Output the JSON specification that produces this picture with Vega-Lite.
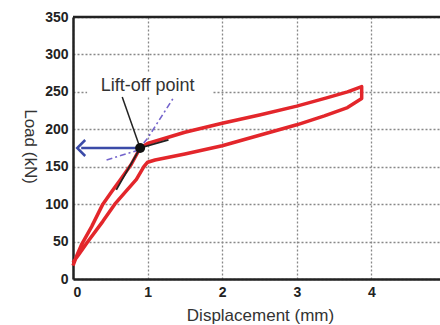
{
  "$schema": "https://vega.github.io/schema/vega-lite/v6.json",
  "width": 367,
  "height": 262,
  "autosize": {"type": "none"},
  "padding": {"left": 73, "top": 17, "right": 0, "bottom": 46},
  "background": "white",
  "config": {"view": {"stroke": null}},
  "datasets": {
    "loop": [
      {"i": 1, "d": 0.0, "load": 18},
      {"i": 2, "d": 0.05, "load": 31},
      {"i": 3, "d": 0.12, "load": 47},
      {"i": 4, "d": 0.25, "load": 70},
      {"i": 5, "d": 0.4, "load": 100},
      {"i": 6, "d": 0.52, "load": 117},
      {"i": 7, "d": 0.63, "load": 132},
      {"i": 8, "d": 0.78, "load": 153},
      {"i": 9, "d": 0.9, "load": 175},
      {"i": 10, "d": 1.0, "load": 181},
      {"i": 11, "d": 1.5, "load": 196},
      {"i": 12, "d": 2.0, "load": 208},
      {"i": 13, "d": 2.5, "load": 219},
      {"i": 14, "d": 3.0, "load": 231},
      {"i": 15, "d": 3.4, "load": 242},
      {"i": 16, "d": 3.68, "load": 250},
      {"i": 17, "d": 3.87, "load": 257},
      {"i": 18, "d": 3.87, "load": 241},
      {"i": 19, "d": 3.68, "load": 229},
      {"i": 20, "d": 3.37, "load": 218},
      {"i": 21, "d": 3.0, "load": 206},
      {"i": 22, "d": 2.5, "load": 192},
      {"i": 23, "d": 2.0, "load": 178},
      {"i": 24, "d": 1.5, "load": 167},
      {"i": 25, "d": 1.1, "load": 159},
      {"i": 26, "d": 1.0, "load": 156},
      {"i": 27, "d": 0.95, "load": 150},
      {"i": 28, "d": 0.85, "load": 133},
      {"i": 29, "d": 0.7, "load": 116},
      {"i": 30, "d": 0.56, "load": 100},
      {"i": 31, "d": 0.4, "load": 77},
      {"i": 32, "d": 0.2, "load": 50},
      {"i": 33, "d": 0.08, "load": 33},
      {"i": 34, "d": 0.0, "load": 22}
    ],
    "border": [{"load": 350}],
    "tangent": [
      {"i": 1, "d": 0.58, "load": 119},
      {"i": 2, "d": 0.9, "load": 175},
      {"i": 3, "d": 1.28, "load": 186}
    ],
    "dashdot": [
      {"i": 1, "d": 0.45, "load": 159},
      {"i": 2, "d": 0.87, "load": 172},
      {"i": 3, "d": 1.0, "load": 188},
      {"i": 4, "d": 1.34, "load": 241}
    ],
    "arrow": [
      {"i": 1, "d": 0.9, "load": 175},
      {"i": 2, "d": 0.11, "load": 175}
    ],
    "head": [{"d": 0.11, "load": 175}],
    "box": [{"d": 0.19, "d2": 1.87, "load": 243, "load2": 276}],
    "label": [{"d": 1.0, "load": 251, "text": "Lift-off point"}],
    "leader": [
      {"i": 1, "d": 0.66, "load": 243},
      {"i": 2, "d": 0.9, "load": 175}
    ],
    "dot": [{"d": 0.9, "load": 175}]
  },
  "encoding": {
    "x": {
      "field": "d", "type": "quantitative",
      "scale": {"domain": [0, 4.92], "nice": false, "zero": false},
      "axis": {
        "values": [0, 1, 2, 3, 4], "format": "d", "labelOverlap": false,
        "title": "Displacement (mm)",
        "labelFont": "Liberation Sans", "labelFontWeight": "bold", "labelFontSize": 14, "labelColor": "#222",
        "ticks": false, "labelPadding": 6,
        "domainColor": "#222", "domainWidth": 2.5,
        "gridColor": "#888", "gridDash": [2, 2], "gridWidth": 1.3,
        "titleFont": "Liberation Sans", "titleFontSize": 17, "titleFontWeight": "normal", "titleColor": "#333",
        "titlePadding": 8, "titleX": 187
      }
    },
    "y": {
      "field": "load", "type": "quantitative",
      "scale": {"domain": [0, 350], "nice": false},
      "axis": {
        "values": [0, 50, 100, 150, 200, 250, 300, 350], "format": "d", "labelOverlap": false,
        "title": "Load (kN)",
        "labelFont": "Liberation Sans", "labelFontWeight": "bold", "labelFontSize": 14, "labelColor": "#222",
        "ticks": false, "labelPadding": 5,
        "domainColor": "#222", "domainWidth": 2.5,
        "gridColor": "#888", "gridDash": [2, 2], "gridWidth": 1.3,
        "titleFont": "Liberation Sans", "titleFontSize": 17, "titleFontWeight": "normal", "titleColor": "#333",
        "titleAngle": 90, "titleX": -44, "titleY": 129, "titleAlign": "center", "titleBaseline": "middle"
      }
    }
  },
  "layer": [
    {
      "data": {"name": "loop"},
      "mark": {"type": "line", "color": "#e3262b", "strokeWidth": 3.5, "strokeJoin": "round"},
      "encoding": {"order": {"field": "i"}}
    },
    {
      "data": {"name": "border"},
      "mark": {"type": "rule", "color": "#222", "strokeWidth": 2.5},
      "encoding": {"x": null}
    },
    {
      "data": {"name": "tangent"},
      "mark": {"type": "line", "color": "#222", "strokeWidth": 1.8},
      "encoding": {"order": {"field": "i"}}
    },
    {
      "data": {"name": "dashdot"},
      "mark": {"type": "line", "color": "#7464cc", "strokeWidth": 1.6, "strokeDash": [6, 3, 2, 3]},
      "encoding": {"order": {"field": "i"}}
    },
    {
      "data": {"name": "arrow"},
      "mark": {"type": "line", "color": "#3b4ba8", "strokeWidth": 2.5},
      "encoding": {"order": {"field": "i"}}
    },
    {
      "data": {"name": "head"},
      "mark": {"type": "point", "shape": "M0.5,-1L-0.5,0L0.5,1", "filled": false, "stroke": "#3b4ba8", "strokeWidth": 2.5, "size": 256, "opacity": 1},
      "encoding": {}
    },
    {
      "data": {"name": "box"},
      "mark": {"type": "rect", "color": "white", "opacity": 1},
      "encoding": {
        "x2": {"field": "d2"},
        "y2": {"field": "load2"}
      }
    },
    {
      "data": {"name": "label"},
      "mark": {"type": "text", "font": "Liberation Sans", "fontSize": 18, "color": "#333", "align": "center", "baseline": "alphabetic"},
      "encoding": {"text": {"field": "text"}}
    },
    {
      "data": {"name": "leader"},
      "mark": {"type": "line", "color": "#222", "strokeWidth": 1.5},
      "encoding": {"order": {"field": "i"}}
    },
    {
      "data": {"name": "dot"},
      "mark": {"type": "circle", "color": "#111", "size": 100, "opacity": 1},
      "encoding": {}
    }
  ]
}
